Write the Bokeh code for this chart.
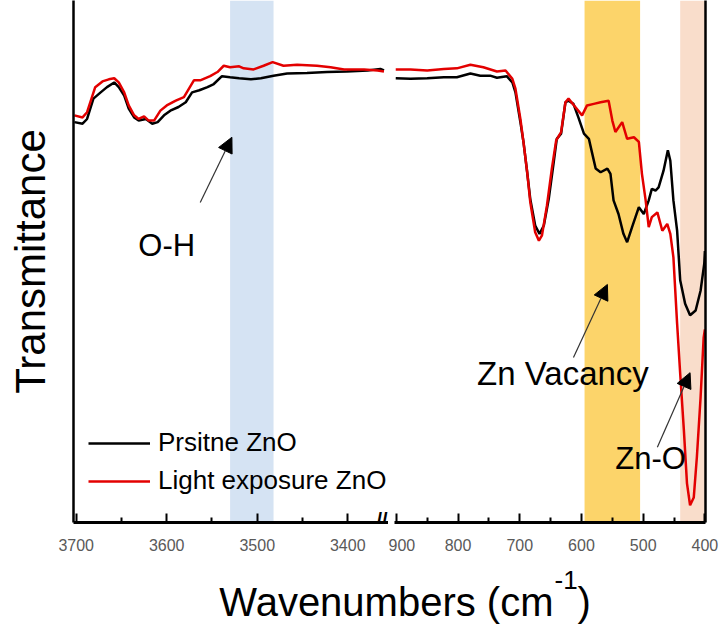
from bokeh.plotting import figure
from bokeh.models import (Range1d, FixedTicker, LinearAxis, BoxAnnotation, Arrow,
                          NormalHead, Label, Legend, LegendItem)
from bokeh.layouts import row, column
from bokeh.embed import file_html
from bokeh.resources import INLINE

FONT = "Liberation Sans"

# ---------------- data (wavenumber cm-1, transmittance a.u.) ----------------
left_wn_black = [3702, 3693, 3688, 3681, 3673, 3666, 3658, 3653, 3647, 3642,
                 3636, 3631, 3623, 3616, 3610, 3603, 3596, 3587, 3579, 3572,
                 3564, 3555, 3548, 3539, 3530, 3520, 3507, 3496, 3482, 3467,
                 3445, 3423, 3401, 3378, 3364, 3360]
left_black = [76.7, 76.4, 77.3, 81.2, 82.4, 83.4, 84.3, 83.4, 81.8, 79.3,
              77.6, 77.0, 77.3, 76.4, 76.7, 78.0, 78.9, 79.6, 80.5, 82.4,
              82.8, 83.4, 84.0, 85.5, 85.3, 85.1, 84.9, 85.1, 85.6, 86.0,
              86.1, 86.3, 86.4, 86.6, 86.9, 86.6]

left_wn_red = [3702, 3693, 3688, 3679, 3671, 3664, 3658, 3653, 3647, 3642,
               3636, 3631, 3625, 3620, 3614, 3607, 3600, 3590, 3581, 3570,
               3563, 3552, 3544, 3537, 3530, 3520, 3515, 3504, 3493, 3483,
               3471, 3456, 3434, 3419, 3404, 3382, 3367, 3360]
left_red = [78.0, 77.6, 78.6, 83.4, 84.5, 84.9, 85.1, 84.3, 82.4, 79.9,
            78.0, 77.3, 77.8, 77.0, 77.0, 78.9, 79.9, 80.8, 81.5, 84.7,
            84.7, 85.5, 86.3, 87.5, 87.2, 87.4, 87.0, 86.8, 87.5, 88.2,
            87.5, 87.7, 87.5, 87.2, 86.8, 86.8, 86.6, 86.4]

right_wn_black = [901, 877, 850, 823, 802, 780, 764, 748, 737, 721,
                  712, 707, 699, 694, 688, 683, 675, 668, 661, 653,
                  645, 640, 633, 626, 621, 613, 605, 596, 588, 583,
                  577, 569, 558, 553, 548, 540, 532, 526, 518, 507,
                  499, 491, 486, 480, 475, 467, 460, 456, 451, 445,
                  440, 432, 424, 415, 407, 401, 400]
right_black = [85.1, 85.0, 85.1, 85.3, 85.3, 86.0, 85.6, 85.6, 85.2, 85.5,
               84.3, 82.4, 76.7, 72.9, 67.1, 62.0, 56.9, 55.3, 56.9, 62.0,
               69.0, 73.5, 74.5, 80.5, 80.8, 80.2, 77.6, 74.5, 73.5, 70.9,
               67.8, 67.1, 67.8, 66.8, 61.7, 59.1, 55.3, 53.7, 56.6, 60.4,
               59.1, 61.7, 63.9, 63.6, 64.2, 67.4, 71.3, 69.3, 61.7, 55.9,
               46.4, 41.9, 39.7, 40.6, 44.4, 49.6, 52.0]

right_wn_red = [901, 877, 850, 823, 802, 780, 759, 737, 723, 712,
                707, 699, 694, 688, 683, 675, 669, 664, 656, 648,
                641, 633, 626, 621, 610, 599, 591, 580, 569, 556,
                550, 545, 534, 526, 515, 507, 502, 496, 491, 486,
                477, 469, 461, 456, 451, 445, 440, 434, 429, 424,
                418, 413, 407, 402, 400]
right_red = [86.8, 86.8, 86.6, 86.9, 87.0, 87.7, 87.2, 86.4, 86.6, 85.0,
             83.1, 77.3, 72.9, 67.1, 61.4, 55.6, 54.0, 55.0, 60.7, 67.8,
             73.2, 74.8, 80.5, 81.2, 79.6, 78.0, 79.9, 80.2, 80.5, 80.8,
             77.0, 74.8, 76.7, 73.5, 73.8, 72.9, 66.8, 61.7, 56.6, 58.5,
             59.4, 55.9, 57.2, 55.3, 50.8, 38.1, 28.5, 17.6, 7.5, 3.3,
             4.8, 12.5, 23.9, 35.4, 37.0]

left_ticks = [3700, 3600, 3500, 3400]
left_minor = [3650, 3550, 3450]
right_ticks = [900, 800, 700, 600, 500, 400]
right_minor = [850, 750, 650, 550, 450]

series_names = ["Prsitne ZnO", "Light exposure ZnO"]
BLACK = "#000000"
RED = "#e30000"


def style_xaxis(ax, ticks, minor):
    ax.ticker = FixedTicker(ticks=ticks, minor_ticks=minor)
    ax.axis_line_width = 3
    ax.axis_line_color = "black"
    ax.major_tick_in = 9
    ax.major_tick_out = 0
    ax.minor_tick_in = 5
    ax.minor_tick_out = 0
    ax.major_tick_line_width = 2
    ax.minor_tick_line_width = 2
    ax.major_tick_line_color = "black"
    ax.minor_tick_line_color = "black"
    ax.major_label_text_font = FONT
    ax.major_label_text_font_size = "16px"
    ax.major_label_text_color = "#595959"
    ax.major_label_standoff = 16


# ---------------- left panel ----------------
p1 = figure(width=388, height=565, x_range=Range1d(3703, 3355), y_range=Range1d(0, 100),
            toolbar_location=None, output_backend="svg",
            min_border_left=73, min_border_right=0, min_border_top=0, min_border_bottom=43)
p1.outline_line_color = None
p1.grid.visible = False
style_xaxis(p1.xaxis[0], left_ticks, left_minor)
ya = p1.yaxis[0]
ya.ticker = FixedTicker(ticks=[])
ya.axis_line_width = 2.5
ya.axis_line_color = "black"
ya.major_tick_line_color = None
ya.minor_tick_line_color = None
ya.axis_label = "Transmittance"
ya.axis_label_text_font = FONT
ya.axis_label_text_font_size = "42px"
ya.axis_label_text_font_style = "normal"
ya.axis_label_text_color = "black"
ya.axis_label_standoff = 20

p1.add_layout(BoxAnnotation(left=3530, right=3482, fill_color="#d5e3f3", fill_alpha=1,
                            line_color=None, level="underlay"))
lb = p1.line(left_wn_black, left_black, line_color=BLACK, line_width=2.5)
lr = p1.line(left_wn_red, left_red, line_color=RED, line_width=2.5)

legend = Legend(items=[LegendItem(label=series_names[0], renderers=[lb]),
                       LegendItem(label=series_names[1], renderers=[lr])],
                location=(15, 26), padding=0, margin=0, spacing=7,
                glyph_width=62, glyph_height=28, label_height=28, label_standoff=8,
                label_text_font=FONT, label_text_font_size="26px", label_text_color="black",
                border_line_color=None, background_fill_alpha=0)
p1.add_layout(legend)

p1.add_layout(Arrow(end=NormalHead(size=15, fill_color="black", line_color="black"),
                    x_start=3563, y_start=61.3, x_end=3528, y_end=73.8,
                    line_width=1.2, line_color="#333333"))
p1.add_layout(Label(x=3600, y=53.1, text="O-H", text_align="center", text_baseline="middle",
                    text_font=FONT, text_font_size="31px", text_color="black"))
# axis break mark
p1.add_layout(Label(x=3356, y=0.5, text="//", text_align="right", text_baseline="middle",
                    text_font=FONT, text_font_size="20px", text_font_style="bold",
                    text_color="black"))

# ---------------- right panel ----------------
p2 = figure(width=332, height=565, x_range=Range1d(903, 399), y_range=Range1d(0, 100),
            toolbar_location=None, output_backend="svg", y_axis_location=None,
            min_border_left=6, min_border_right=15, min_border_top=0, min_border_bottom=43)
p2.outline_line_color = None
p2.grid.visible = False
style_xaxis(p2.xaxis[0], right_ticks, right_minor)
ra = LinearAxis(ticker=FixedTicker(ticks=[]), axis_line_width=2.5, axis_line_color="black",
                major_tick_line_color=None, minor_tick_line_color=None)
p2.add_layout(ra, "right")

p2.add_layout(BoxAnnotation(left=595, right=505, fill_color="#fcd46a", fill_alpha=1,
                            line_color=None, level="underlay"))
p2.add_layout(BoxAnnotation(left=440, right=400, fill_color="#f9ddcb", fill_alpha=1,
                            line_color=None, level="underlay"))
p2.line(right_wn_black, right_black, line_color=BLACK, line_width=2.5)
p2.line(right_wn_red, right_red, line_color=RED, line_width=2.5)

p2.add_layout(Arrow(end=NormalHead(size=15, fill_color="black", line_color="black"),
                    x_start=613, y_start=31.6, x_end=558, y_end=45.6,
                    line_width=1.2, line_color="#333333"))
p2.add_layout(Label(x=630, y=28.5, text="Zn Vacancy", text_align="center", text_baseline="middle",
                    text_font=FONT, text_font_size="33px", text_color="black"))
p2.add_layout(Arrow(end=NormalHead(size=15, fill_color="black", line_color="black"),
                    x_start=477, y_start=14.4, x_end=424, y_end=28.7,
                    line_width=1.2, line_color="#333333"))
p2.add_layout(Label(x=488, y=12.3, text="Zn-O", text_align="center", text_baseline="middle",
                    text_font=FONT, text_font_size="31px", text_color="black"))

# ---------------- x axis title ----------------
p3 = figure(width=720, height=61, x_range=Range1d(0, 720), y_range=Range1d(0, 61),
            toolbar_location=None, output_backend="svg", min_border=0)
p3.outline_line_color = None
p3.grid.visible = False
p3.axis.visible = False
p3.add_layout(Label(x=553, y=25, text="Wavenumbers (cm", text_align="right",
                    text_baseline="alphabetic", text_font=FONT, text_font_size="40px",
                    text_color="black"))
p3.add_layout(Label(x=554, y=47, text="-1", text_align="left",
                    text_baseline="alphabetic", text_font=FONT, text_font_size="26px",
                    text_color="black"))
p3.add_layout(Label(x=577, y=25, text=")", text_align="left",
                    text_baseline="alphabetic", text_font=FONT, text_font_size="40px",
                    text_color="black"))

layout = column(row(p1, p2, spacing=0), p3, spacing=0)
open("out.html", "w").write(file_html(layout, INLINE))
